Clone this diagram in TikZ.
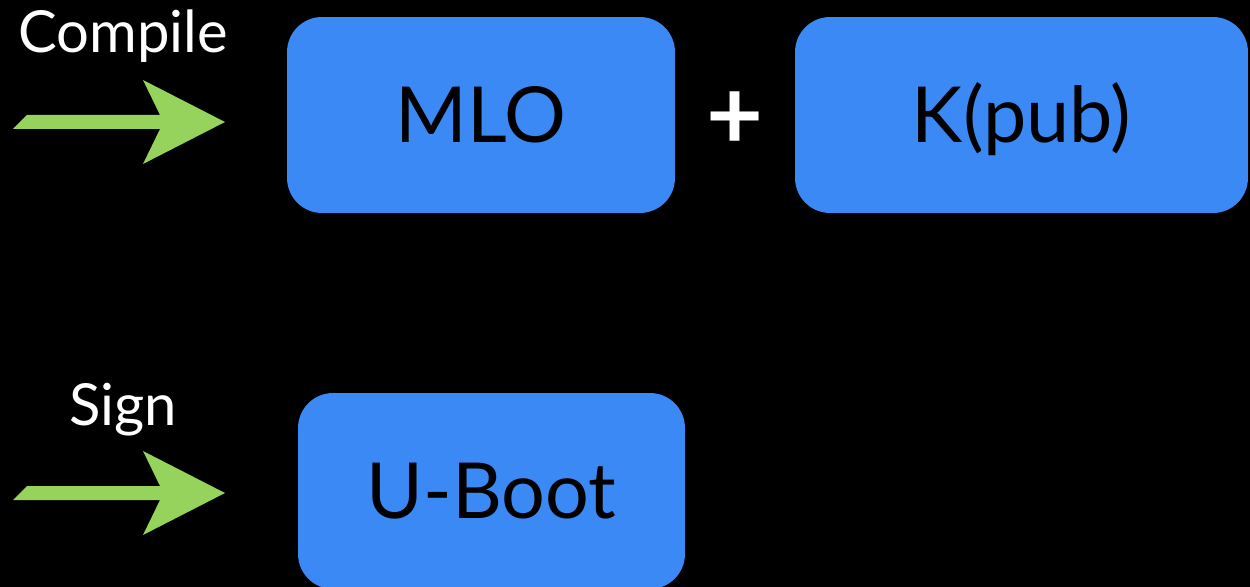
\documentclass[tikz,border=0pt]{standalone}
\usepackage{fontspec}
\setmainfont{Lato}

\definecolor{boxblue}{RGB}{58,137,245}
\definecolor{arrowgreen}{RGB}{149,211,93}

\tikzset{
  part/.style={fill=boxblue, rounded corners=0.7cm, minimum height=3.92cm,
    text height=1.1cm, text depth=0pt, inner sep=0pt,
    font=\fontsize{44}{50}\selectfont},
  caption/.style={text=white, anchor=base, inner sep=0pt,
    font=\fontsize{33}{36}\selectfont},
  % fat green arrow, drawn back from its tip
  bigarrow/.pic={
    \fill[arrowgreen] (0,0) -- (-82,-42) -- (-65,-7) -- (-198,-7)
      -- (-212,7) -- (-65,7) -- (-82,42) -- cycle;
  }
}

\begin{document}
\begin{tikzpicture}[x=0.02cm,y=-0.02cm]
\fill[black] (0,0) rectangle (1250,587);
\useasboundingbox (0,0) rectangle (1250,587);

% boot images
\node[part,minimum width=7.76cm] (mlo) at (481,115) {MLO};
\node[part,minimum width=9.06cm] (kpub) at (1021.5,115) {K(pub)};
\node[part,minimum width=7.74cm] (uboot) at (491.5,491) {U-Boot};
\node[text=white,inner sep=0pt,font=\fontsize{56}{60}\selectfont\bfseries] (plus) at (735,121) {+};

% steps
\node[caption] (compile) at (123,53) {Compile};
\node[caption] (sign) at (123,425) {Sign};
\coordinate (compiletip) at (225,122);
\coordinate (signtip) at (225,493);
\pic at (compiletip) {bigarrow};
\pic at (signtip) {bigarrow};
\end{tikzpicture}
\end{document}
